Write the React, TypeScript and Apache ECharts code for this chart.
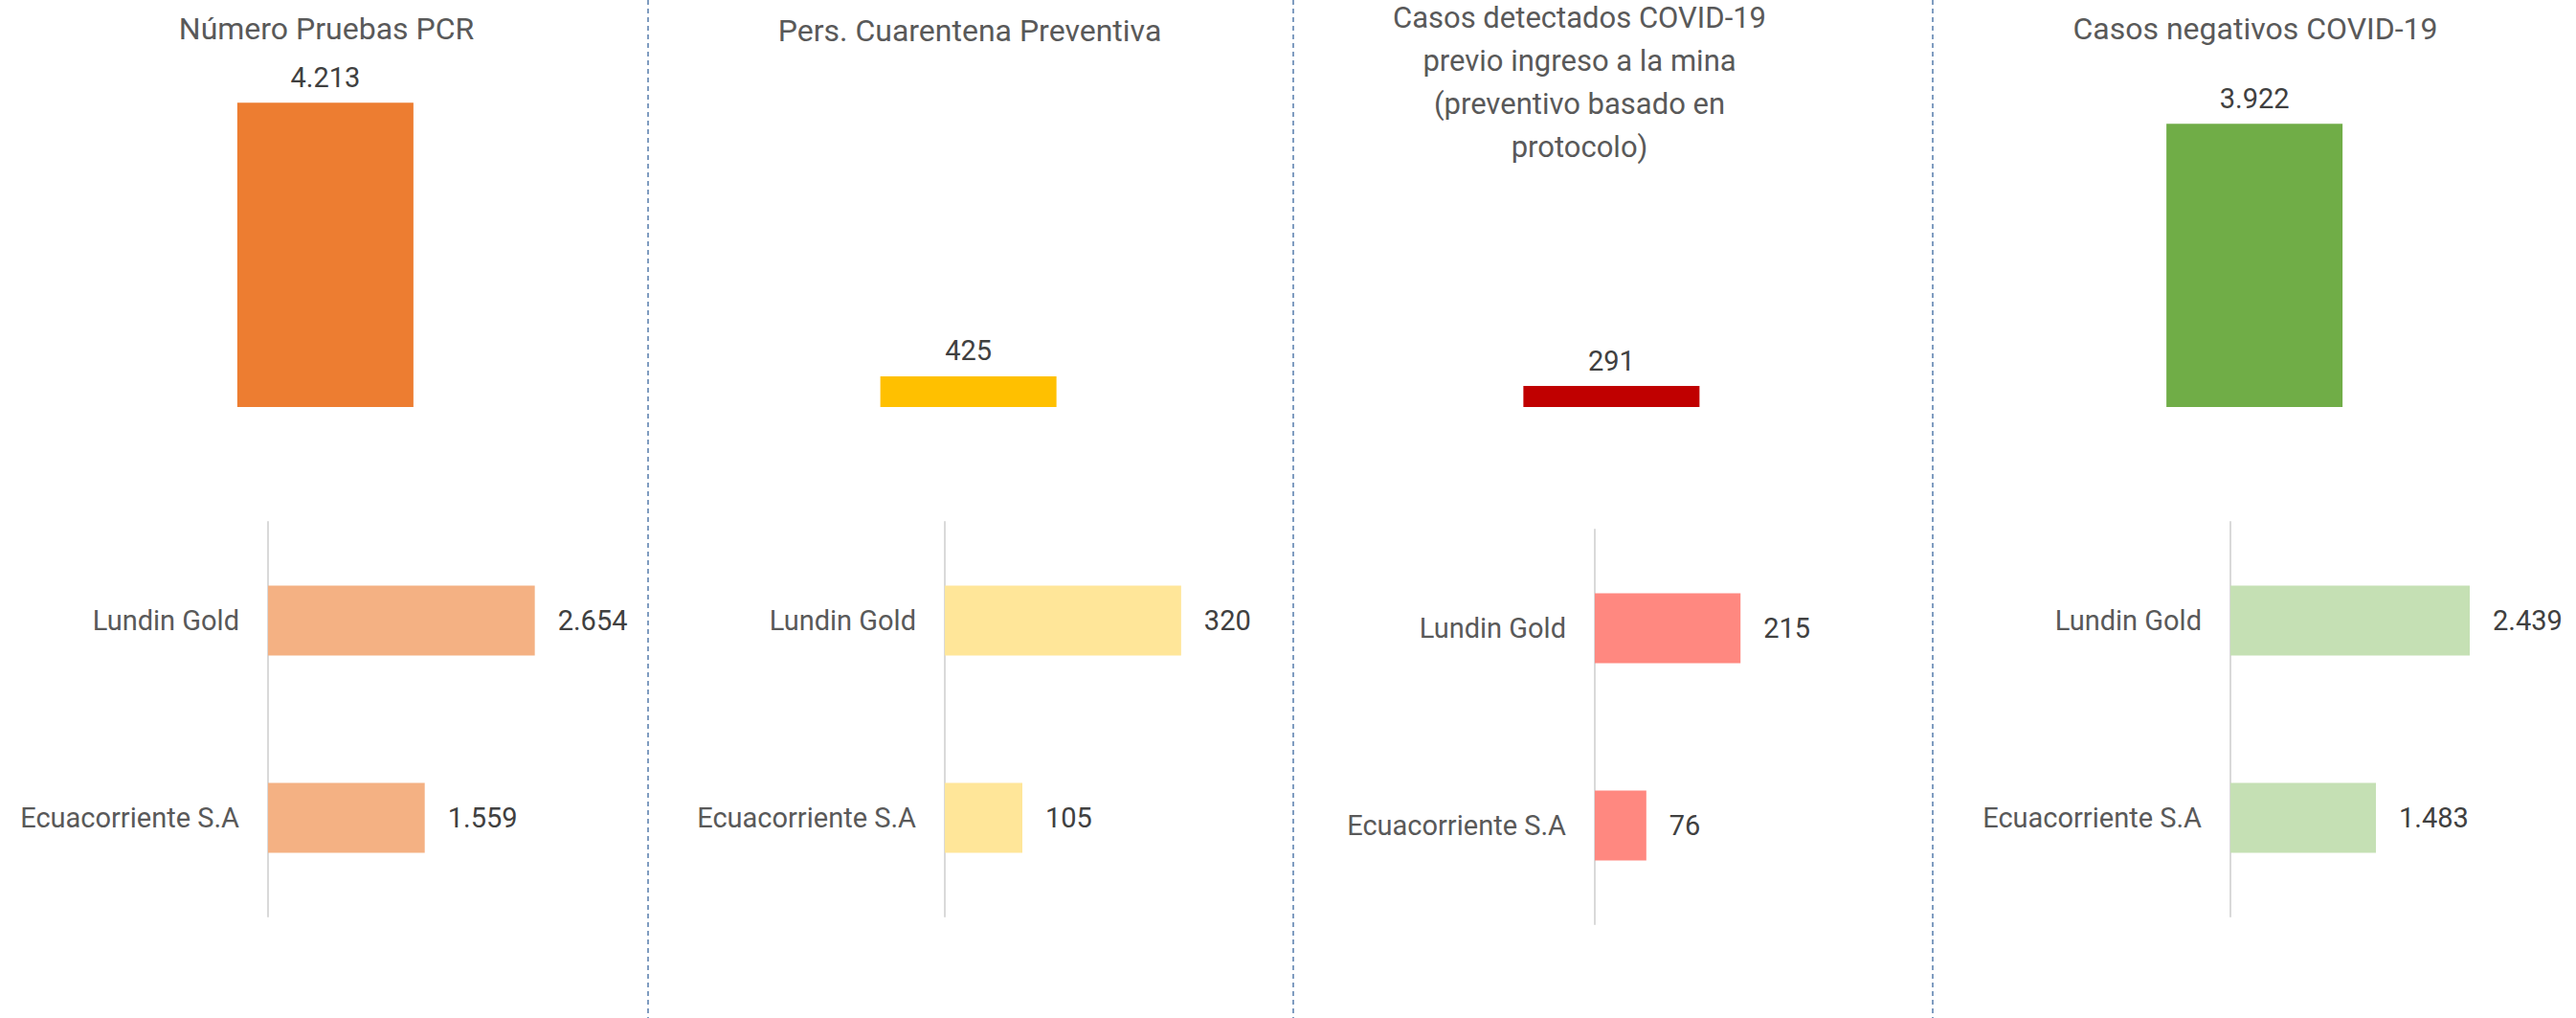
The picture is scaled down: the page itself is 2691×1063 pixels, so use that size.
import React, { useEffect, useRef } from "react";
import * as echarts from "echarts";

const topCategories = ["Número Pruebas PCR", "Pers. Cuarentena Preventiva", "Casos detectados", "Casos negativos COVID-19"];
const topValues = [4213, 425, 291, 3922];
const topColors = ["#ED7D31", "#FFC000", "#C00000", "#70AD47"];

const companies = ["Lundin Gold", "Ecuacorriente S.A"];
const pcrValues = [2654, 1559];
const cuarentenaValues = [320, 105];
const detectadosValues = [215, 76];
const negativosValues = [2439, 1483];
const bottomColors = ["#F4B183", "#FFE699", "#FF8880", "#C5E0B4"];

const panelTitles = [
  "Número Pruebas PCR",
  "Pers. Cuarentena Preventiva",
  "Casos detectados COVID-19\nprevio ingreso a la mina\n(preventivo basado en\nprotocolo)",
  "Casos negativos COVID-19",
];

const FONT = "Roboto";

function fmt(v: number): string {
  const s = String(Math.round(v));
  return s.replace(/\B(?=(\d{3})+(?!\d))/g, ".");
}

export default function App() {
  const ref = useRef<HTMLDivElement>(null);
  useEffect(() => {
    document.body.style.margin = "0";
    const chart = echarts.init(ref.current!, null, { renderer: "svg" });

    const bottomGrids = [
      { left: 280, width: 315, top: 545, height: 412, max: 3000, data: pcrValues },
      { left: 987, width: 270, top: 545, height: 412, max: 350, data: cuarentenaValues },
      { left: 1666, width: 177, top: 553, height: 412, max: 250, data: detectadosValues },
      { left: 2330, width: 307.5, top: 545, height: 412, max: 3000, data: negativosValues },
    ];

    const grids: any[] = [{ left: 4, width: 2687, top: 48, height: 377 }];
    const xAxes: any[] = [
      { gridIndex: 0, type: "category", data: topCategories, show: false },
    ];
    const yAxes: any[] = [
      { gridIndex: 0, type: "value", min: 0, max: 5000, show: false },
    ];
    const series: any[] = [
      {
        type: "bar",
        xAxisIndex: 0,
        yAxisIndex: 0,
        barWidth: 184,
        data: topValues.map((v, i) => ({ value: v, itemStyle: { color: topColors[i] } })),
        label: {
          show: true,
          position: "top",
          distance: 12,
          fontFamily: FONT,
          fontSize: 29,
          color: "#404040",
          formatter: (p: any) => fmt(p.value),
        },
      },
    ];

    bottomGrids.forEach((g, i) => {
      const gi = i + 1;
      grids.push({ left: g.left, width: g.width, top: g.top, height: g.height });
      xAxes.push({
        gridIndex: gi,
        type: "value",
        min: 0,
        max: g.max,
        show: false,
      });
      yAxes.push({
        gridIndex: gi,
        type: "category",
        data: companies,
        inverse: true,
        axisLine: { show: true, lineStyle: { color: "#D9D9D9", width: 2 } },
        axisTick: { show: false },
        splitLine: { show: false },
        axisLabel: {
          margin: 30,
          fontFamily: FONT,
          fontSize: 29,
          color: "#595959",
        },
      });
      series.push({
        type: "bar",
        xAxisIndex: gi,
        yAxisIndex: gi,
        barWidth: 73,
        data: g.data,
        itemStyle: { color: bottomColors[i] },
        label: {
          show: true,
          position: "right",
          distance: 24,
          fontFamily: FONT,
          fontSize: 29,
          color: "#404040",
          formatter: (p: any) => fmt(p.value),
        },
      });
    });

    const titlePos = [
      { x: 341, y: 30 },
      { x: 1013, y: 32 },
      { x: 1650, y: 86 },
      { x: 2356, y: 30 },
    ];

    const graphics: any[] = [];
    panelTitles.forEach((t, i) => {
      graphics.push({
        type: "text",
        x: titlePos[i].x,
        y: titlePos[i].y,
        style: {
          text: t,
          fontFamily: FONT,
          fontSize: i === 2 ? 31 : 32,
          fill: "#595959",
          align: "center",
          verticalAlign: "middle",
          lineHeight: 45,
        },
      });
    });
    [677, 1351, 2019].forEach((x) => {
      graphics.push({
        type: "line",
        shape: { x1: x, y1: 0, x2: x, y2: 1063 },
        style: { stroke: "#7F9CC0", lineWidth: 2, lineDash: [5, 4] },
      });
    });

    chart.setOption({
      animation: false,
      backgroundColor: "#FFFFFF",
      grid: grids,
      xAxis: xAxes,
      yAxis: yAxes,
      series,
      graphic: graphics,
    });
    return () => chart.dispose();
  }, []);
  return <div ref={ref} style={{ width: 2691, height: 1063 }} />;
}
